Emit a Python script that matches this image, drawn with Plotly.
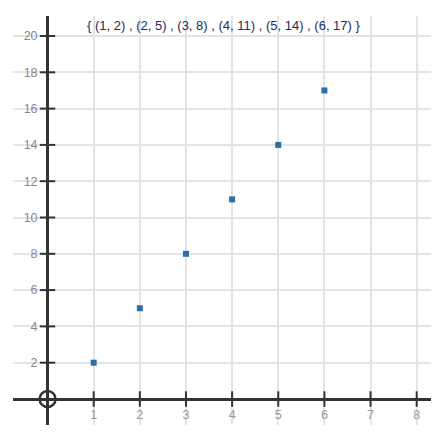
import plotly.graph_objects as go

# Data
x_vals = [1, 2, 3, 4, 5, 6]
y_vals = [2, 5, 8, 11, 14, 17]
x_ticks = [1, 2, 3, 4, 5, 6, 7, 8]
y_ticks = [2, 4, 6, 8, 10, 12, 14, 16, 18, 20]
title_text = "{ (1, 2) , (2, 5) , (3, 8) , (4, 11) , (5, 14) , (6, 17) }"

AXIS = "#333333"
GRID = "#e4e4e4"

fig = go.Figure()

# tick marks crossing the axes
fig.add_trace(go.Scatter(
    x=x_ticks, y=[0] * len(x_ticks), mode="markers",
    marker=dict(symbol="line-ns", size=11, color=AXIS, line=dict(width=2, color=AXIS)),
    hoverinfo="skip", showlegend=False, cliponaxis=False))
fig.add_trace(go.Scatter(
    x=[0] * len(y_ticks), y=y_ticks, mode="markers",
    marker=dict(symbol="line-ew", size=11, color=AXIS, line=dict(width=2, color=AXIS)),
    hoverinfo="skip", showlegend=False, cliponaxis=False))

# origin circle
fig.add_trace(go.Scatter(
    x=[0], y=[0], mode="markers",
    marker=dict(symbol="circle-open", size=16, color=AXIS, line=dict(width=2.5, color=AXIS)),
    hoverinfo="skip", showlegend=False, cliponaxis=False))

# data points
fig.add_trace(go.Scatter(
    x=x_vals, y=y_vals, mode="markers",
    marker=dict(symbol="square", size=6, color="#2e6da4"),
    showlegend=False))

# the page body has an 8px default margin; compensate
OFF = 8
W, H = 444 - OFF, 442 - OFF
ml, mr, mt, mb = 13 - OFF, 13, 16 - OFF, 17
pw, ph = W - ml - mr, H - mt - mb
x0_px, px_per_x = 47.56 - OFF, 46.14
y0_px, px_per_y = 399.0 - OFF, 18.15
xr = [(ml - x0_px) / px_per_x, (W - mr - x0_px) / px_per_x]
yr = [(y0_px - (H - mb)) / px_per_y, (y0_px - mt) / px_per_y]

fig.update_layout(
    width=W, height=H,
    margin=dict(l=ml, r=mr, t=mt, b=mb),
    paper_bgcolor="white", plot_bgcolor="white",
    font=dict(family="Liberation Sans, Arial, sans-serif"),
    xaxis=dict(
        range=xr, tickvals=x_ticks, ticktext=[str(v) for v in x_ticks],
        showgrid=True, gridcolor=GRID, gridwidth=2,
        zeroline=True, zerolinecolor=AXIS, zerolinewidth=2.5,
        showline=False, ticks="", anchor="free",
        position=(H - mb - y0_px) / ph,
        tickfont=dict(size=12.5, color="#999999"),
        ticklabelstandoff=6, fixedrange=True),
    yaxis=dict(
        range=yr, tickvals=y_ticks, ticktext=[str(v) for v in y_ticks],
        showgrid=True, gridcolor=GRID, gridwidth=2,
        zeroline=True, zerolinecolor=AXIS, zerolinewidth=2.5,
        showline=False, ticks="", anchor="free",
        position=(x0_px - ml) / pw,
        tickfont=dict(size=12.5, color="#888888"),
        ticklabelstandoff=10, fixedrange=True),
    annotations=[dict(
        text=title_text, xref="paper", yref="paper",
        x=(224 - OFF - ml) / pw, y=1 - (25 - OFF - mt) / ph,
        xanchor="center", yanchor="middle",
        showarrow=False, font=dict(size=13, color="#252a60"))],
)

fig.write_html("out.html")
